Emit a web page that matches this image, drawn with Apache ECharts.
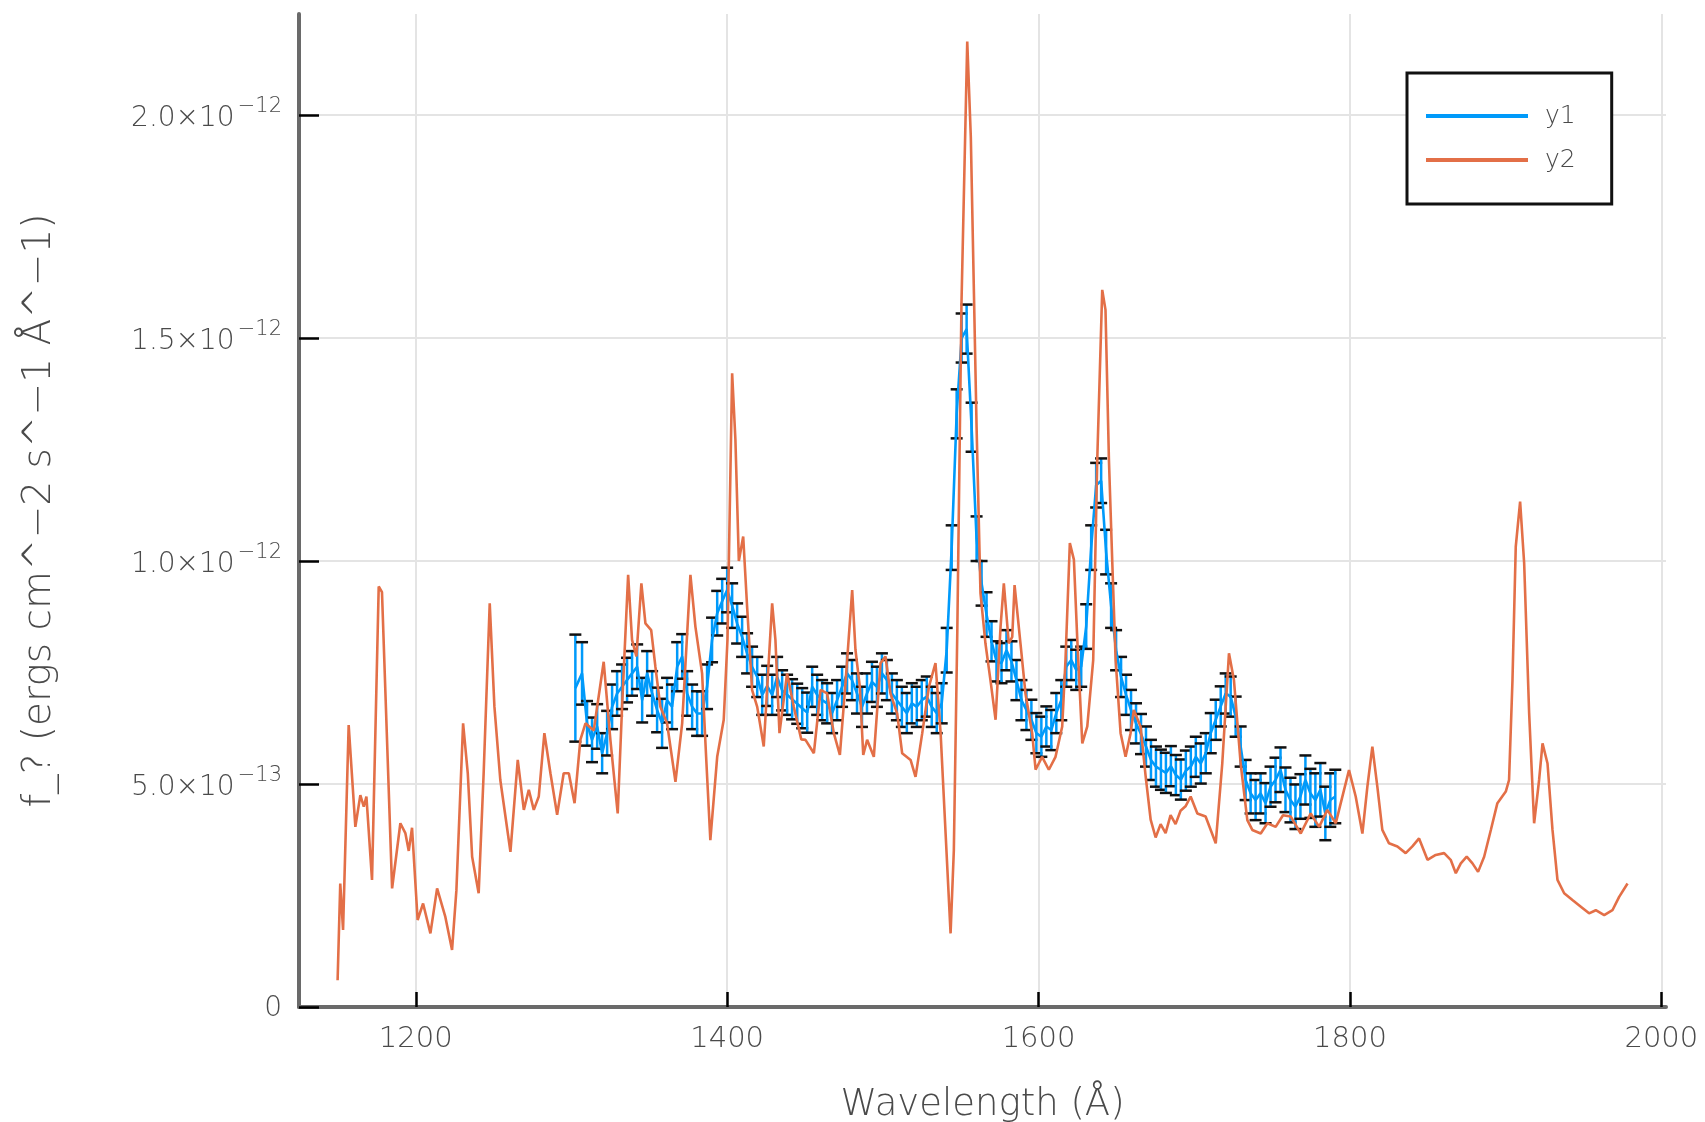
<!DOCTYPE html>
<html><head><meta charset="utf-8">
<script src="https://cdn.jsdelivr.net/npm/echarts@6/dist/echarts.min.js"></script>
<style>html,body{margin:0;padding:0;background:#fff}#c{width:1705px;height:1122px}</style>
</head><body><div id="c"></div>
<script>
// flux values are in units of 1e-12 erg cm^-2 s^-1 A^-1
const UNIT = 1e-12;

// series y2 (orange)
const y2Wave = [
1149.8,1151.5,1153.3,1156.9,1161.2,1164.4,1166.6,1168.3,1171.9,1176.2,
1178.3,1184.8,1190.1,1193.3,1195.5,1197.6,1201.2,1204.7,1209.4,1213.7,
1219.0,1223.3,1226.1,1230.4,1233.4,1236.2,1240.4,1243.6,1247.5,1250.5,
1254.3,1260.8,1265.5,1269.4,1272.6,1275.8,1279.0,1282.6,1286.5,1290.8,
1295.0,1298.3,1302.0,1305.7,1309.0,1314.3,1320.7,1325.0,1329.7,1332.5,
1336.4,1338.9,1341.7,1344.9,1347.5,1351.2,1353.9,1357.1,1361.4,1366.8,
1371.1,1376.4,1379.6,1383.9,1386.5,1389.2,1393.6,1397.8,1400.2,1403.2,
1405.3,1407.5,1410.3,1412.8,1416.0,1419.3,1423.5,1428.9,1431.0,1433.6,
1438.5,1442.8,1447.6,1450.3,1455.7,1460.0,1464.2,1468.5,1472.4,1476.0,
1480.3,1482.4,1485.2,1487.4,1489.9,1494.2,1498.5,1501.7,1504.9,1509.2,
1512.4,1517.8,1521.0,1525.3,1529.6,1533.8,1537.1,1540.3,1543.5,1545.6,
1547.8,1550.5,1554.2,1556.5,1558.5,1560.2,1562.7,1565.9,1569.1,1572.4,
1575.6,1577.7,1580.9,1583.1,1584.6,1588.4,1591.6,1595.9,1598.1,1602.3,
1606.6,1610.9,1615.2,1617.3,1620.1,1622.7,1624.8,1628.1,1631.3,1635.1,
1637.7,1640.9,1643.0,1645.2,1647.3,1649.5,1652.7,1655.9,1659.1,1661.2,
1665.5,1668.7,1672.0,1675.2,1678.4,1681.6,1684.8,1688.0,1691.2,1694.4,
1697.7,1702.0,1707.3,1713.8,1718.0,1722.3,1725.5,1729.8,1734.1,1737.3,
1742.7,1747.0,1752.3,1757.0,1762.0,1768.4,1774.8,1780.2,1785.5,1790.9,
1794.1,1799.4,1803.7,1808.0,1811.2,1814.4,1817.6,1820.8,1825.1,1830.5,
1835.8,1840.1,1844.4,1849.8,1855.1,1860.5,1864.7,1868.0,1871.2,1875.0,
1878.7,1882.3,1886.2,1890.5,1894.7,1900.1,1902.2,1904.4,1906.5,1909.3,
1911.9,1915.1,1918.3,1921.5,1923.7,1926.9,1930.1,1933.3,1937.6,1942.9,
1948.3,1953.6,1957.9,1963.3,1968.6,1972.9,1978.3];
const y2Flux = [
0.060,0.277,0.173,0.632,0.404,0.475,0.449,0.472,0.285,0.943,
0.930,0.266,0.412,0.390,0.350,0.402,0.195,0.232,0.165,0.266,
0.202,0.128,0.262,0.636,0.524,0.337,0.255,0.524,0.905,0.674,
0.509,0.348,0.554,0.442,0.487,0.442,0.472,0.614,0.524,0.431,
0.524,0.524,0.457,0.599,0.636,0.620,0.774,0.599,0.434,0.673,
0.969,0.823,0.786,0.950,0.860,0.845,0.763,0.673,0.636,0.505,
0.636,0.969,0.853,0.748,0.560,0.374,0.561,0.644,0.823,1.421,
1.272,1.000,1.055,0.898,0.711,0.673,0.584,0.905,0.823,0.614,
0.748,0.673,0.600,0.599,0.569,0.711,0.703,0.614,0.565,0.726,
0.935,0.801,0.718,0.565,0.599,0.561,0.771,0.786,0.703,0.658,
0.569,0.554,0.516,0.614,0.718,0.771,0.614,0.389,0.165,0.352,
0.838,1.578,2.165,1.950,1.600,1.300,0.928,0.815,0.733,0.644,
0.853,0.950,0.815,0.830,0.946,0.815,0.703,0.614,0.532,0.561,
0.532,0.561,0.629,0.778,1.040,1.003,0.830,0.591,0.629,0.778,
1.227,1.608,1.563,1.227,1.003,0.778,0.614,0.561,0.614,0.666,
0.629,0.520,0.420,0.380,0.410,0.390,0.430,0.410,0.440,0.450,
0.472,0.434,0.427,0.367,0.546,0.793,0.733,0.546,0.419,0.397,
0.389,0.412,0.404,0.430,0.427,0.389,0.434,0.404,0.442,0.412,
0.457,0.531,0.472,0.389,0.494,0.584,0.494,0.397,0.367,0.360,
0.345,0.360,0.378,0.330,0.341,0.345,0.330,0.300,0.322,0.337,
0.322,0.303,0.337,0.397,0.457,0.483,0.509,0.733,1.032,1.133,
0.995,0.659,0.412,0.509,0.591,0.546,0.397,0.285,0.255,0.240,
0.225,0.210,0.217,0.206,0.217,0.247,0.277];

// series y1 (blue, with error bars)
const y1Wave = [
1302.5,1306.8,1310.0,1313.2,1316.5,1319.7,1322.9,1326.1,1329.3,1332.5,
1335.7,1338.9,1342.2,1345.4,1348.6,1351.8,1355.0,1358.2,1361.4,1364.6,
1367.9,1371.1,1374.3,1377.5,1380.7,1383.9,1387.1,1390.3,1393.6,1396.8,
1400.0,1403.2,1406.4,1409.6,1412.8,1416.0,1419.3,1422.5,1425.7,1428.9,
1432.1,1435.3,1438.5,1441.7,1445.0,1448.2,1451.4,1454.6,1457.8,1461.0,
1464.2,1467.4,1470.6,1473.8,1477.0,1480.2,1483.4,1486.6,1489.8,1493.0,
1496.2,1499.4,1502.6,1505.8,1509.0,1512.2,1515.4,1518.6,1521.8,1525.0,
1528.2,1531.4,1534.6,1537.8,1541.0,1544.2,1547.4,1550.6,1553.8,1557.0,
1560.2,1563.4,1566.6,1569.8,1573.0,1576.2,1579.4,1582.6,1585.8,1589.0,
1592.2,1595.4,1598.6,1601.8,1605.0,1608.2,1611.4,1614.6,1617.8,1621.0,
1624.2,1627.4,1630.6,1633.8,1637.0,1640.2,1643.4,1646.6,1649.8,1653.0,
1656.2,1659.4,1662.6,1665.8,1669.0,1672.2,1675.4,1678.6,1681.8,1685.0,
1688.2,1691.4,1694.6,1697.8,1701.0,1704.2,1707.4,1710.6,1713.8,1717.0,
1720.2,1723.4,1726.6,1729.8,1733.0,1736.2,1739.4,1742.6,1745.8,1749.0,
1752.2,1755.4,1758.6,1761.8,1765.0,1768.2,1771.4,1774.6,1777.8,1781.0,
1784.2,1787.4,1790.6];
const y1Flux = [
0.715,0.748,0.636,0.599,0.629,0.569,0.614,0.673,0.703,0.718,
0.733,0.748,0.763,0.688,0.748,0.703,0.666,0.636,0.688,0.673,
0.763,0.786,0.703,0.673,0.658,0.658,0.718,0.823,0.883,0.910,
0.935,0.900,0.860,0.830,0.793,0.763,0.740,0.700,0.720,0.700,
0.740,0.710,0.700,0.690,0.680,0.670,0.660,0.718,0.700,0.688,
0.681,0.659,0.688,0.718,0.748,0.733,0.703,0.673,0.703,0.729,
0.718,0.748,0.733,0.703,0.688,0.673,0.659,0.681,0.673,0.688,
0.696,0.673,0.659,0.681,0.800,1.030,1.330,1.500,1.520,1.300,
1.050,0.950,0.880,0.820,0.775,0.771,0.800,0.775,0.733,0.688,
0.666,0.644,0.614,0.606,0.629,0.621,0.659,0.688,0.763,0.778,
0.756,0.763,0.853,1.030,1.170,1.180,1.020,0.900,0.800,0.740,
0.700,0.666,0.636,0.612,0.584,0.554,0.539,0.532,0.525,0.540,
0.520,0.510,0.530,0.539,0.561,0.546,0.569,0.614,0.644,0.674,
0.703,0.696,0.651,0.584,0.509,0.479,0.464,0.479,0.457,0.494,
0.509,0.532,0.487,0.464,0.449,0.472,0.509,0.479,0.464,0.487,
0.434,0.464,0.472];
const y1Err = [
0.120,0.070,0.050,0.050,0.050,0.045,0.050,0.050,0.050,0.050,
0.050,0.050,0.050,0.050,0.050,0.050,0.050,0.055,0.050,0.050,
0.055,0.050,0.050,0.050,0.050,0.050,0.050,0.050,0.050,0.050,
0.050,0.050,0.045,0.045,0.045,0.045,0.045,0.045,0.045,0.045,
0.045,0.045,0.045,0.045,0.045,0.045,0.045,0.045,0.045,0.045,
0.045,0.045,0.045,0.045,0.045,0.045,0.045,0.045,0.045,0.045,
0.045,0.045,0.045,0.045,0.045,0.045,0.045,0.045,0.045,0.045,
0.045,0.045,0.045,0.045,0.050,0.050,0.055,0.055,0.055,0.055,
0.050,0.050,0.050,0.045,0.045,0.045,0.045,0.045,0.045,0.045,
0.045,0.045,0.045,0.045,0.045,0.045,0.045,0.045,0.045,0.045,
0.045,0.045,0.050,0.050,0.050,0.050,0.050,0.050,0.045,0.045,
0.045,0.045,0.045,0.045,0.045,0.045,0.045,0.045,0.045,0.045,
0.045,0.045,0.045,0.045,0.045,0.045,0.045,0.045,0.045,0.045,
0.045,0.045,0.045,0.045,0.045,0.045,0.045,0.045,0.045,0.045,
0.050,0.050,0.050,0.050,0.050,0.050,0.055,0.055,0.060,0.060,
0.060,0.060,0.060];

// axis ticks
const xTicks = [1200, 1400, 1600, 1800, 2000];
const yTicks = [0, 5e-13, 1e-12, 1.5e-12, 2e-12];
const yTickMant = ['0', '5.0', '1.0', '1.5', '2.0'];
const yTickExp = ['', '\u221213', '\u221212', '\u221212', '\u221212'];

const FONT = 'DejaVu Sans';
const FW = 300;
const TXT = '#4a4a4a';

const d2 = y2Wave.map((w, i) => [w, y2Flux[i] * UNIT]);
const d1 = y1Wave.map((w, i) => [w, y1Flux[i] * UNIT]);
const dErr = y1Wave.map((w, i) => [w, (y1Flux[i] - y1Err[i]) * UNIT, (y1Flux[i] + y1Err[i]) * UNIT]);

const chart = echarts.init(document.getElementById('c'), null, {renderer: 'canvas'});
chart.setOption({
  animation: false,
  backgroundColor: '#ffffff',
  textStyle: {fontFamily: FONT, fontWeight: FW},
  grid: {left: 299, right: 39, top: 14, bottom: 115, containLabel: false, outerBoundsMode: 'none'},
  legend: {
    data: ['y1', 'y2'],
    orient: 'vertical',
    left: 1407, top: 73,
    icon: 'rect',
    itemWidth: 102, itemHeight: 4, itemGap: 18,
    padding: [30, 36, 31, 19],
    borderColor: '#111', borderWidth: 3,
    backgroundColor: '#fff',
    textStyle: {fontFamily: FONT, fontWeight: FW, fontSize: 25, color: TXT, padding: [0, 0, 0, 12], lineHeight: 26}
  },
  xAxis: {
    type: 'value', min: 1125, max: 2003,
    name: 'Wavelength (\u00c5)', nameLocation: 'middle', nameGap: 80,
    nameTextStyle: {fontFamily: FONT, fontWeight: FW, fontSize: 37, color: TXT},
    axisLine: {show: true, onZero: false, lineStyle: {color: '#6a6a6a', width: 4}},
    axisTick: {show: true, inside: true, length: 15, lineStyle: {color: '#000', width: 2.5}, customValues: xTicks},
    axisLabel: {
      fontFamily: FONT, fontWeight: FW, fontSize: 29, color: TXT, margin: 18, customValues: xTicks,
      formatter: function (v) { return String(Math.round(v)); }
    },
    splitLine: {show: true, lineStyle: {color: '#e4e4e4', width: 2}}
  },
  yAxis: {
    type: 'value', min: 0, max: 2.2265e-12,
    name: 'f_? (ergs cm^\u22122 s^\u22121 \u00c5^\u22121)', nameLocation: 'middle', nameGap: 240,
    nameTextStyle: {fontFamily: FONT, fontWeight: FW, fontSize: 39, color: TXT},
    axisLine: {show: true, onZero: false, lineStyle: {color: '#6a6a6a', width: 4}},
    axisTick: {show: true, inside: true, length: 20, lineStyle: {color: '#000', width: 2.5}, customValues: yTicks},
    axisLabel: {
      customValues: yTicks, margin: 17,
      formatter: function (v) {
        let k = 0, best = Infinity;
        yTicks.forEach((t, i) => { const d = Math.abs(t - v); if (d < best) { best = d; k = i; } });
        if (!yTickExp[k]) return '{z|' + yTickMant[k] + '}';
        return '{m|' + yTickMant[k] + '\u00d710}{s|' + yTickExp[k] + '}';
      },
      rich: {
        z: {fontFamily: FONT, fontWeight: FW, fontSize: 28, color: TXT, padding: [3, 0, 0, 0]},
        m: {fontFamily: FONT, fontWeight: FW, fontSize: 28, color: TXT, padding: [7, 0, 0, 0]},
        s: {fontFamily: FONT, fontWeight: FW, fontSize: 21, color: TXT, padding: [0, 0, 16, 3]}
      }
    },
    splitLine: {show: true, lineStyle: {color: '#e4e4e4', width: 2}}
  },
  series: [
    {
      name: 'err', type: 'custom', z: 2,
      data: dErr,
      encode: {x: 0, y: [1, 2]},
      renderItem: function (params, api) {
        const x = api.value(0);
        const a = api.coord([x, api.value(1)]);
        const b = api.coord([x, api.value(2)]);
        const hw = 6;
        const cap = {stroke: '#111', lineWidth: 2.5};
        return {type: 'group', children: [
          {type: 'line', shape: {x1: a[0], y1: a[1], x2: b[0], y2: b[1]}, style: {stroke: '#009AFA', lineWidth: 2.5}},
          {type: 'line', shape: {x1: a[0] - hw, y1: a[1], x2: a[0] + hw, y2: a[1]}, style: cap},
          {type: 'line', shape: {x1: b[0] - hw, y1: b[1], x2: b[0] + hw, y2: b[1]}, style: cap}
        ]};
      }
    },
    {
      name: 'y1', type: 'line', z: 3, data: d1, showSymbol: false, symbol: 'none',
      color: '#009AFA', lineStyle: {color: '#009AFA', width: 2.6}
    },
    {
      name: 'y2', type: 'line', z: 4, data: d2, showSymbol: false, symbol: 'none',
      color: '#E36F47', lineStyle: {color: '#E36F47', width: 2.6}
    }
  ]
});
</script>
</body></html>
